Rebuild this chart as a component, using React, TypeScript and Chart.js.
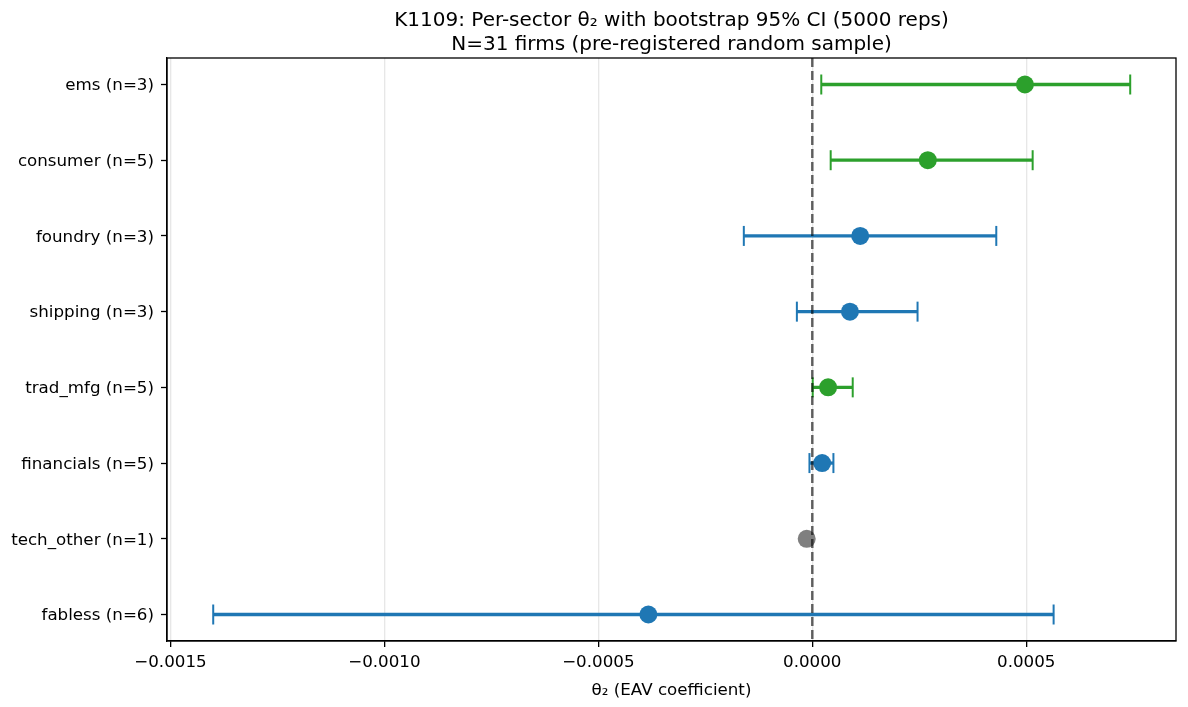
import React, { useEffect, useRef } from "react";
import { Chart, registerables } from "chart.js";

Chart.register(...registerables);

const sectors = [
  "ems (n=3)",
  "consumer (n=5)",
  "foundry (n=3)",
  "shipping (n=3)",
  "trad_mfg (n=5)",
  "financials (n=5)",
  "tech_other (n=1)",
  "fabless (n=6)",
];
const theta = [0.000497, 0.00027, 0.000112, 0.000088, 0.000037, 0.000023, -0.000013, -0.000383];
const ciLow = [0.000021, 0.000043, -0.00016, -0.000036, 0.000001, -0.0000066, null, -0.0014];
const ciHigh = [0.000743, 0.000515, 0.00043, 0.000246, 0.0000945, 0.0000494, null, 0.000564];
const pointColors = ["#2ca02c", "#2ca02c", "#1f77b4", "#1f77b4", "#2ca02c", "#1f77b4", "#7f7f7f", "#1f77b4"];
const xTicks = [-0.0015, -0.001, -0.0005, 0, 0.0005];

const FONT = "DejaVu Sans";

export default function App() {
  const ref = useRef<HTMLCanvasElement | null>(null);

  useEffect(() => {
    document.body.style.margin = "0";
    const canvas = ref.current;
    if (!canvas) return;

    const errorSets: any[] = [];
    sectors.forEach((s, i) => {
      const lo = ciLow[i];
      const hi = ciHigh[i];
      if (lo === null || hi === null) return;
      errorSets.push({
        type: "line",
        label: s + " CI",
        data: [
          { x: lo, y: i },
          { x: hi, y: i },
        ],
        showLine: true,
        borderColor: pointColors[i],
        borderWidth: 3.3,
        pointStyle: "line",
        pointRotation: 90,
        pointRadius: 10,
        pointBorderWidth: 2,
        pointBorderColor: pointColors[i],
        pointBackgroundColor: pointColors[i],
        fill: false,
      });
    });

    const overlay = {
      id: "overlay",
      afterDatasetsDraw(chart: any) {
        const ctx = chart.ctx;
        const area = chart.chartArea;
        const x0 = chart.scales.x.getPixelForValue(0);
        ctx.save();
        ctx.strokeStyle = "rgba(0,0,0,0.6)";
        ctx.lineWidth = 2.5;
        ctx.setLineDash([9, 4]);
        ctx.beginPath();
        ctx.moveTo(x0, area.top);
        ctx.lineTo(x0, area.bottom);
        ctx.stroke();
        ctx.restore();
      },
      afterDraw(chart: any) {
        const ctx = chart.ctx;
        const a = chart.chartArea;
        ctx.save();
        ctx.strokeStyle = "#000";
        ctx.lineWidth = 1.3;
        ctx.strokeRect(a.left, a.top, a.right - a.left, a.bottom - a.top);
        ctx.restore();
      },
    };

    const chart = new Chart(canvas, {
      type: "scatter",
      data: {
        datasets: [
          {
            label: "θ₂",
            data: theta.map((v, i) => ({ x: v, y: i })),
            pointBackgroundColor: pointColors,
            pointBorderWidth: 0,
            pointRadius: 9,
            pointStyle: "circle",
          } as any,
          ...errorSets,
        ],
      },
      options: {
        animation: false,
        responsive: false,
        devicePixelRatio: 1,
        events: [],
        layout: { padding: { left: 0, right: 12, top: 0, bottom: 0 } },
        plugins: {
          legend: { display: false },
          tooltip: { enabled: false },
          title: {
            display: true,
            fullSize: false,
            text: [
              "K1109: Per-sector θ₂ with bootstrap 95% CI (5000 reps)",
              "N=31 firms (pre-registered random sample)",
            ],
            color: "#000",
            font: { family: FONT, size: 20, weight: "normal", lineHeight: 1.2 },
            padding: { top: 9, bottom: 1 },
          },
        },
        scales: {
          x: {
            type: "linear",
            min: -0.001508,
            max: 0.00085,
            afterBuildTicks: (scale: any) => {
              scale.ticks = xTicks.map((v) => ({ value: v }));
            },
            afterFit: (scale: any) => {
              scale.height = 66;
            },
            ticks: {
              color: "#000",
              font: { family: FONT, size: 16.7 },
              padding: 6,
              maxRotation: 0,
              autoSkip: false,
              callback: (v: any) => {
                const n = Number(v);
                const s = Math.abs(n) < 1e-12 ? "0.0000" : n.toFixed(4);
                return s.replace("-", "\u2212");
              },
            },
            grid: {
              display: true,
              color: "rgba(176,176,176,0.3)",
              lineWidth: 1.3,
              drawTicks: true,
              tickLength: 6,
              tickColor: "#000",
              tickWidth: 1.3,
            },
            border: { display: true, color: "#000", width: 1.3 },
            title: {
              display: true,
              text: "θ₂ (EAV coefficient)",
              color: "#000",
              font: { family: FONT, size: 16.7 },
              padding: { top: 6, bottom: 6 },
            },
          },
          y: {
            type: "linear",
            reverse: true,
            min: -0.35,
            max: 7.35,
            afterBuildTicks: (scale: any) => {
              scale.ticks = sectors.map((_, i) => ({ value: i }));
            },
            afterFit: (scale: any) => {
              scale.width = 167;
            },
            ticks: {
              color: "#000",
              font: { family: FONT, size: 16.7 },
              padding: 7,
              labelOffset: 1.5,
              autoSkip: false,
              callback: (v: any) => sectors[Number(v)] ?? "",
            },
            grid: {
              display: true,
              drawOnChartArea: false,
              drawTicks: true,
              tickLength: 6,
              tickColor: "#000",
              tickWidth: 1.3,
            },
            border: { display: true, color: "#000", width: 1.3 },
          },
        },
      } as any,
      plugins: [overlay],
    });

    return () => chart.destroy();
  }, []);

  return (
    <div style={{ width: 1188, height: 707, background: "#fff" }}>
      <canvas ref={ref} width={1188} height={707} style={{ display: "block" }} />
    </div>
  );
}
